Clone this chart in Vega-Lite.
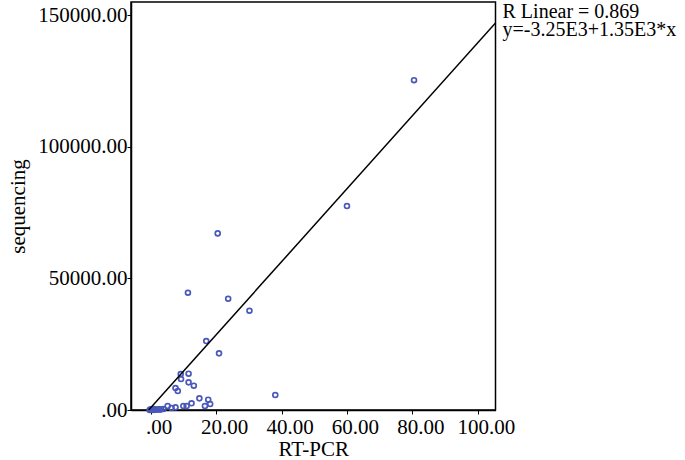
{
  "$schema": "https://vega.github.io/schema/vega-lite/v6.json",
  "width": 364.5,
  "height": 408,
  "autosize": {"type": "none"},
  "padding": {"left": 131, "top": 2, "right": 189.5, "bottom": 50},
  "background": "white",
  "config": {
    "view": {"stroke": "#000000", "strokeWidth": 1.5},
    "font": "Liberation Serif",
    "axis": {
      "grid": false,
      "domainColor": "#000000",
      "domainWidth": 1.5,
      "tickColor": "#000000",
      "tickSize": 4,
      "labelFont": "Liberation Serif",
      "labelFontSize": 21,
      "labelColor": "#000000",
      "titleFont": "Liberation Serif",
      "titleFontSize": 21,
      "titleFontWeight": "normal",
      "titleColor": "#000000"
    }
  },
  "datasets": {
    "pts": [
      {"rtpcr": 80.5, "seq": 125300},
      {"rtpcr": 60.0, "seq": 77500},
      {"rtpcr": 20.5, "seq": 67100},
      {"rtpcr": 11.4, "seq": 44550},
      {"rtpcr": 23.7, "seq": 42270},
      {"rtpcr": 30.2, "seq": 37710},
      {"rtpcr": 17.0, "seq": 26200},
      {"rtpcr": 20.9, "seq": 21530},
      {"rtpcr": 9.2, "seq": 13670},
      {"rtpcr": 11.6, "seq": 13790},
      {"rtpcr": 9.3, "seq": 11770},
      {"rtpcr": 11.6, "seq": 10510},
      {"rtpcr": 13.2, "seq": 9230},
      {"rtpcr": 7.6, "seq": 8350},
      {"rtpcr": 8.3, "seq": 7220},
      {"rtpcr": 38.1, "seq": 5700},
      {"rtpcr": 14.9, "seq": 4430},
      {"rtpcr": 17.6, "seq": 3910},
      {"rtpcr": 12.5, "seq": 2540},
      {"rtpcr": 18.2, "seq": 2280},
      {"rtpcr": 16.6, "seq": 1520},
      {"rtpcr": 10.0, "seq": 1520},
      {"rtpcr": 11.0, "seq": 1520},
      {"rtpcr": 5.2, "seq": 1520},
      {"rtpcr": 7.6, "seq": 1000},
      {"rtpcr": 6.4, "seq": 760},
      {"rtpcr": 3.9, "seq": 380},
      {"rtpcr": -0.3, "seq": 0},
      {"rtpcr": 0.3, "seq": 100},
      {"rtpcr": 0.8, "seq": 0},
      {"rtpcr": 1.3, "seq": 200},
      {"rtpcr": 1.8, "seq": 100},
      {"rtpcr": 2.3, "seq": 300},
      {"rtpcr": 2.8, "seq": 150},
      {"rtpcr": 3.2, "seq": 250},
      {"rtpcr": 0.0, "seq": 300},
      {"rtpcr": 1.0, "seq": 400}
    ],
    "fit": [
      {"rtpcr": -0.6, "seq": 0},
      {"rtpcr": 105.4, "seq": 147000}
    ],
    "ann": [
      {"rtpcr": 107.55, "seq": 148900, "label": "R Linear = 0.869"},
      {"rtpcr": 107.55, "seq": 142100, "label": "y=-3.25E3+1.35E3*x"}
    ]
  },
  "encoding": {
    "x": {
      "field": "rtpcr",
      "type": "quantitative",
      "title": "RT-PCR",
      "scale": {"domain": [-6, 105.4], "nice": false, "zero": false},
      "axis": {
        "values": [0, 20, 40, 60, 80, 100],
        "labelExpr": "datum.value == 0 ? '.00' : format(datum.value, '.2f')",
        "labelOffset": 8,
        "labelPadding": 2,
        "titlePadding": 1
      }
    },
    "y": {
      "field": "seq",
      "type": "quantitative",
      "title": "sequencing",
      "scale": {"domain": [0, 155000], "nice": false, "zero": false},
      "axis": {
        "values": [0, 50000, 100000, 150000],
        "labelExpr": "datum.value == 0 ? '.00' : format(datum.value, '.2f')",
        "labelPadding": 0,
        "titlePadding": 9
      }
    }
  },
  "layer": [
    {
      "data": {"name": "pts"},
      "mark": {"type": "point", "shape": "circle", "filled": false, "size": 24, "strokeWidth": 1.7, "color": "#4a58b8", "opacity": 1}
    },
    {
      "data": {"name": "fit"},
      "mark": {"type": "line", "color": "#000000", "strokeWidth": 1.5, "clip": true}
    },
    {
      "data": {"name": "ann"},
      "mark": {"type": "text", "align": "left", "baseline": "alphabetic", "font": "Liberation Serif", "fontSize": 20, "color": "#000000", "clip": false},
      "encoding": {"text": {"field": "label", "type": "nominal"}}
    }
  ]
}
